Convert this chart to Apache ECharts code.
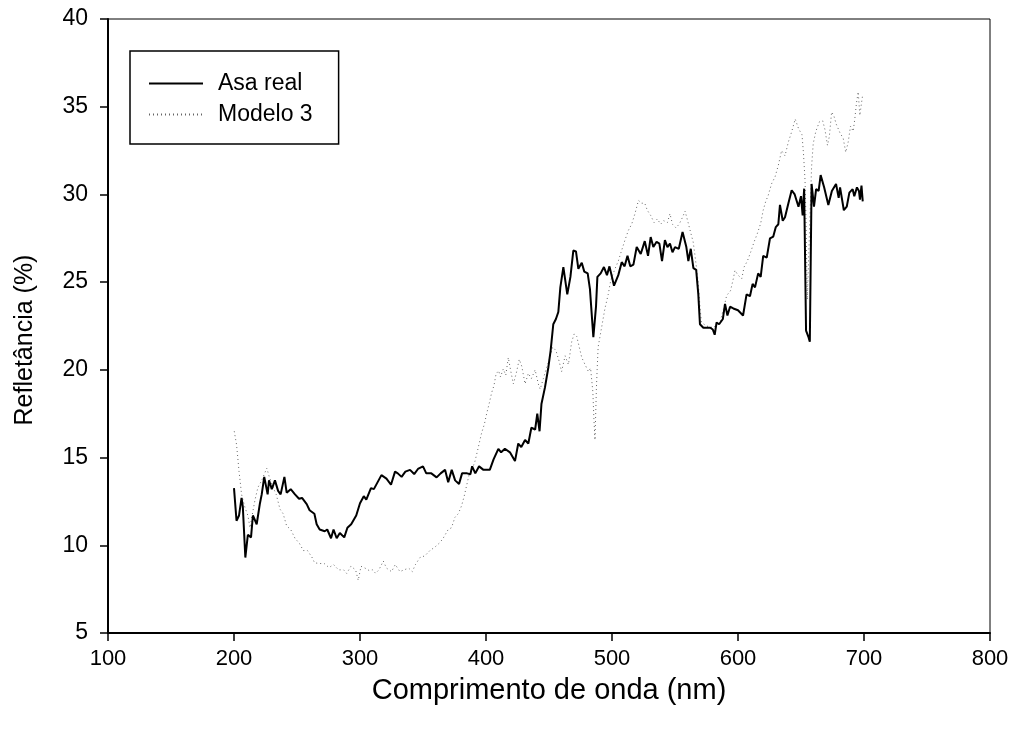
<!DOCTYPE html>
<html>
<head>
<meta charset="utf-8">
<title>Refletância</title>
<script src="https://cdn.jsdelivr.net/npm/echarts@6/dist/echarts.min.js"></script>
<style>
    html, body { margin: 0; padding: 0; background: #fff; }
    #chart { width: 1013px; height: 747px; }
</style>
</head>
<body>
<div id="chart"></div>
<script>
// Asa real (comprimento de onda em nm, refletância em %)
var asaNm = [200, 202, 204, 206, 207, 209, 211, 213.5, 215, 218, 220.6, 222, 224, 226.7, 227.8, 230, 232.5, 235, 237, 240,
    241.8, 245, 248.4, 251.6, 254, 257.7, 260, 263.8, 265.6, 268, 272, 274, 277, 279, 281.5, 284, 287.5, 290, 293, 297,
    300, 303, 305, 308.7, 311, 314, 317, 321, 324.6, 327.8, 330, 333, 336, 339.7, 343, 346, 350, 352.6, 356.6, 360.8,
    364, 367.5, 370, 372.8, 375.5, 378.6, 381, 385, 387.6, 389, 391.5, 394.5, 398, 403, 406, 409.8, 412, 415, 419, 423,
    425.6, 428, 431, 433.6, 436, 439, 440.7, 442.5, 444, 446.8, 449.5, 451.3, 453.4, 455.5, 457.4, 459, 461.4, 464.5, 467, 469.3,
    471.4, 473.3, 476, 478, 480.7, 482.5, 485.2, 487.3, 488.4, 491, 493.6, 496, 498, 501.6, 505, 507.7, 510, 512.3, 514.5, 517,
    519.6, 522.8, 526, 528.6, 530.7, 532.8, 535.4, 537.6, 539.7, 542, 544, 546, 548, 550, 553, 556, 559, 560.6, 562.5, 564.6,
    566.8, 568.5, 569.8, 572.5, 575, 578, 580, 581.5, 583, 585, 588, 589.7, 591.6, 593.7, 596.3, 600, 604, 606.8, 609.5, 611.6,
    613.5, 616, 618, 620, 622.8, 625.4, 628, 630, 632, 633.3, 635.5, 637.3, 640, 642.6, 645, 648, 650, 651.3, 652.5, 654,
    655.8, 657, 658.4, 660.3, 662, 664, 665.6, 668.4, 671.7, 674.5, 677.8, 679.9, 681, 684, 686.3, 688.4, 691, 692.3, 694.4, 696,
    696.8, 698, 699];
var asaVal = [13.26, 11.4, 11.7, 12.7, 12.2, 9.3, 10.6, 10.45, 11.7, 11.2, 12.4, 12.9, 13.9, 12.9, 13.7, 13.2, 13.7, 13.1, 12.9, 13.9,
    13.0, 13.2, 12.9, 12.65, 12.7, 12.35, 12.0, 11.8, 11.2, 10.9, 10.8, 10.9, 10.4, 10.9, 10.4, 10.7, 10.45, 11.0, 11.2, 11.7,
    12.4, 12.8, 12.6, 13.26, 13.2, 13.6, 14.0, 13.8, 13.45, 14.2, 14.1, 13.9, 14.2, 14.3, 14.06, 14.35, 14.5, 14.1, 14.1, 13.87,
    14.1, 14.3, 13.6, 14.3, 13.7, 13.5, 14.1, 14.1, 14.05, 14.5, 14.1, 14.5, 14.3, 14.3, 14.9, 15.5, 15.3, 15.5, 15.3, 14.8,
    15.8, 15.6, 16.0, 15.8, 16.7, 16.6, 17.5, 16.5, 18.05, 19.0, 20.15, 21.1, 22.6, 22.9, 23.3, 24.7, 25.86, 24.3, 25.3, 26.8,
    26.75, 25.76, 26.1, 25.6, 25.5, 24.6, 21.86, 23.6, 25.3, 25.5, 25.86, 25.4, 25.9, 24.8, 25.4, 26.14, 25.9, 26.5, 25.9, 26.0,
    27.0, 26.6, 27.34, 26.5, 27.57, 27.0, 27.3, 27.2, 26.2, 27.4, 27.0, 27.2, 26.7, 27.0, 26.9, 27.86, 27.0, 26.2, 26.9, 25.8,
    25.7, 24.3, 22.6, 22.4, 22.4, 22.4, 22.3, 22.0, 22.7, 22.6, 22.9, 23.76, 23.1, 23.6, 23.5, 23.4, 23.1, 24.3, 24.2, 24.9,
    24.7, 25.5, 25.3, 26.5, 26.4, 27.5, 27.6, 28.14, 28.3, 29.4, 28.5, 28.7, 29.5, 30.24, 30.0, 29.3, 29.9, 28.8, 30.33, 22.24,
    21.9, 21.6, 30.6, 29.3, 30.3, 30.2, 31.1, 30.4, 29.4, 30.2, 30.6, 29.8, 30.4, 29.1, 29.3, 30.1, 30.3, 29.9, 30.4, 30.2,
    29.7, 30.5, 29.6];

// Modelo 3
var modNm = [200.2, 202, 203, 204, 204.8, 206, 208.7, 211, 212.7, 214.5, 216.7, 219, 222, 224.6, 226, 228, 231, 233.5, 236.5, 239,
    241.8, 245, 248.4, 252, 255, 258.3, 261.7, 264, 268, 271.6, 275.4, 279, 283, 287, 289.4, 292.8, 296.5, 298.6, 300.8, 304,
    307.5, 310, 312.4, 315, 318.5, 321, 325, 328, 331.7, 335, 338.6, 341.5, 344, 347.6, 351.5, 355.5, 359.5, 363.5, 366, 370,
    372.6, 375.4, 378, 380.6, 382.7, 384.6, 386.5, 388.6, 391.3, 393.3, 395.2, 396.5, 398.7, 400.5, 402.6, 404.5, 406.3, 408, 410, 411.5,
    413.7, 415.7, 417.7, 419.6, 421.7, 424, 426.4, 428.4, 431, 433.6, 436, 439, 441.5, 443, 445.5, 448, 450.8, 452.9, 455.5, 458,
    460, 462.8, 465.4, 468, 470, 472, 474, 476, 478.6, 481.3, 483, 484.8, 485.7, 486.5, 487.6, 488.2, 489, 491.7, 494.4, 497,
    499, 502.4, 505, 507.6, 510.3, 513, 515.6, 518.2, 521, 523.6, 526, 528, 530.7, 533.4, 536, 538.6, 541, 544, 546, 548,
    550.7, 553.3, 556, 558, 560.4, 562.3, 564.4, 565.7, 567, 568.5, 569.8, 571, 575, 580.5, 586, 589, 591, 594, 596, 597.6,
    600, 603, 604.8, 607.4, 610, 612.8, 615.3, 618, 620, 622, 624, 626.6, 629.4, 632, 634.6, 637.3, 640, 642.6, 645.4, 648,
    650.8, 652, 653.2, 654, 654.6, 655, 657, 658.4, 659.7, 661.8, 664.6, 667.2, 669, 671, 672.5, 674.3, 676, 678, 681, 683.5,
    685.5, 687.5, 689.3, 691.4, 692.7, 694, 695.4, 696.7, 698, 699];
var modVal = [16.5, 15.75, 15.0, 14.2, 13.7, 12.9, 12.15, 11.7, 11.0, 11.75, 12.6, 13.3, 13.7, 14.15, 14.4, 13.9, 13.3, 12.9, 12.06, 11.8,
    11.1, 10.9, 10.4, 10.1, 9.7, 9.7, 9.34, 9.0, 8.96, 8.96, 8.73, 8.9, 8.6, 8.6, 8.4, 8.8, 8.6, 8.0, 8.8, 8.7,
    8.55, 8.6, 8.4, 8.6, 9.1, 8.7, 8.5, 8.9, 8.5, 8.6, 8.7, 8.5, 8.9, 9.3, 9.4, 9.7, 9.9, 10.16, 10.4, 10.9,
    11.0, 11.6, 11.8, 12.25, 12.8, 13.4, 14.0, 14.25, 14.8, 15.4, 16.0, 16.4, 16.9, 17.5, 18.1, 18.7, 19.1, 19.77, 19.95, 19.6,
    20.05, 19.7, 20.7, 19.95, 19.2, 19.8, 20.6, 20.2, 19.2, 19.8, 19.5, 20.0, 19.2, 18.9, 19.5, 20.1, 20.7, 21.3, 21.1, 20.5,
    19.9, 20.8, 20.3, 21.6, 22.05, 21.9, 21.3, 20.7, 20.3, 19.9, 20.1, 18.75, 17.1, 16.0, 18.9, 20.0, 21.3, 22.4, 23.5, 24.3,
    25.1, 25.77, 26.2, 26.8, 27.4, 27.95, 28.3, 28.9, 29.66, 29.5, 29.5, 29.1, 28.8, 28.4, 28.6, 28.3, 28.5, 28.4, 28.9, 28.3,
    28.1, 28.3, 28.7, 29.05, 28.4, 27.86, 27.3, 26.6, 25.85, 24.9, 23.6, 22.7, 22.5, 22.4, 22.8, 23.6, 24.24, 24.5, 25.1, 25.67,
    25.4, 25.2, 25.86, 26.2, 26.7, 27.3, 27.76, 28.35, 29.1, 29.6, 29.95, 30.6, 31.0, 31.66, 32.5, 32.2, 33.0, 33.57, 34.3, 33.76,
    33.4, 32.3, 30.8, 28.5, 25.7, 24.0, 28.5, 31.57, 32.9, 33.6, 34.14, 34.2, 33.7, 32.8, 33.3, 34.7, 34.5, 34.0, 33.5, 33.2,
    32.4, 33.0, 33.9, 33.6, 34.3, 35.2, 35.85, 34.5, 35.2, 35.7];

var xTicks = [100, 800, 100]; // min, max, intervalo
var yTicks = [5, 40, 5];

function pares(xs, ys) {
    var out = [];
    for (var i = 0; i < xs.length; i++) {
        out.push([xs[i], ys[i]]);
    }
    return out;
}

var fonte = 'Liberation Sans, Arial, sans-serif';

var chart = echarts.init(document.getElementById('chart'));

var option = {
    animation: false,
    backgroundColor: '#fff',
    grid: {
        left: 108,
        right: 23,
        top: 19,
        bottom: 114,
        show: true,
        borderColor: '#000',
        borderWidth: 1
    },
    legend: {
        orient: 'vertical',
        left: 130,
        top: 51,
        padding: [21, 26, 18, 18],
        itemGap: 8,
        itemWidth: 54,
        itemHeight: 14,
        borderColor: '#000',
        borderWidth: 1.5,
        itemStyle: {color: 'rgba(0,0,0,0)', borderWidth: 0},
        textStyle: {
            fontFamily: fonte,
            fontSize: 23,
            color: '#000',
            padding: [0, 0, 0, 10]
        },
        data: ['Asa real', 'Modelo 3']
    },
    xAxis: {
        type: 'value',
        min: xTicks[0],
        max: xTicks[1],
        interval: xTicks[2],
        name: 'Comprimento de onda (nm)',
        nameLocation: 'middle',
        nameGap: 43,
        nameMoveOverlap: false,
        nameTextStyle: {fontFamily: fonte, fontSize: 29, color: '#000'},
        axisLine: {show: true, lineStyle: {color: '#000', width: 2}},
        axisTick: {show: true, inside: false, length: 8, lineStyle: {color: '#000', width: 1.5}},
        axisLabel: {fontFamily: fonte, fontSize: 22, color: '#000', margin: 15},
        splitLine: {show: false}
    },
    yAxis: {
        type: 'value',
        min: yTicks[0],
        max: yTicks[1],
        interval: yTicks[2],
        name: 'Refletância (%)',
        nameLocation: 'middle',
        nameGap: 70,
        nameMoveOverlap: false,
        nameRotate: 90,
        nameTextStyle: {fontFamily: fonte, fontSize: 25, color: '#000', padding: [0, 28, 0, 0]},
        axisLine: {show: true, lineStyle: {color: '#000', width: 2}},
        axisTick: {show: true, inside: false, length: 8, lineStyle: {color: '#000', width: 1.5}},
        axisLabel: {fontFamily: fonte, fontSize: 23, color: '#000', margin: 20},
        splitLine: {show: false}
    },
    series: [{
        name: 'Asa real',
        type: 'line',
        symbol: 'none',
        smooth: false,
        z: 3,
        lineStyle: {color: '#000', width: 2},
        itemStyle: {color: '#000'},
        data: pares(asaNm, asaVal)
    }, {
        name: 'Modelo 3',
        type: 'line',
        symbol: 'none',
        smooth: false,
        z: 2,
        lineStyle: {color: '#666', width: 1, type: [1, 3]},
        itemStyle: {color: '#666'},
        data: pares(modNm, modVal)
    }]
};

chart.setOption(option);
</script>
</body>
</html>
